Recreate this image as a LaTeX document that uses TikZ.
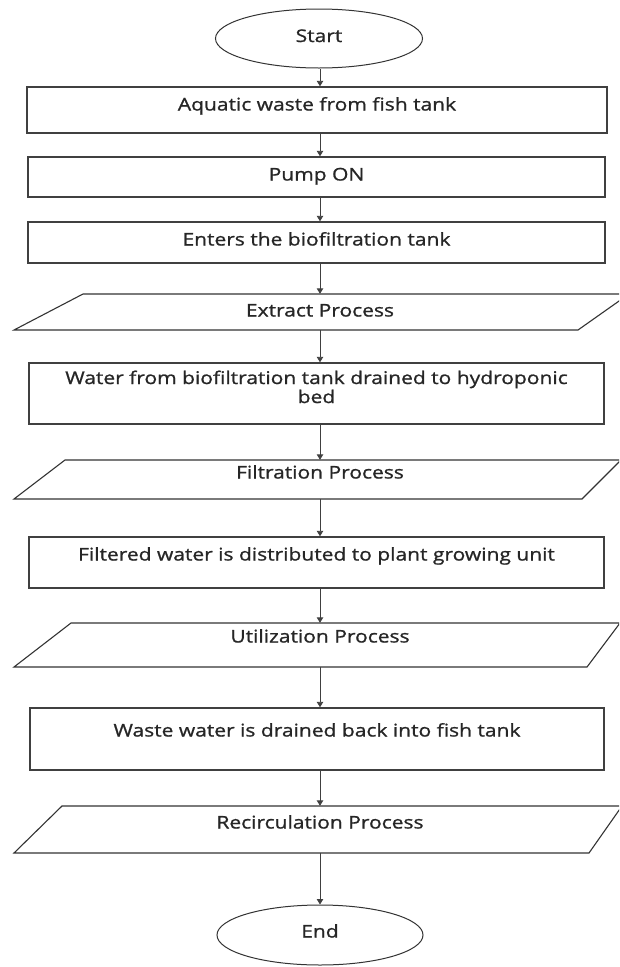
\documentclass[tikz,border=0pt]{standalone}
\usepackage{fontspec}
\setmainfont[FakeStretch=1.2,FakeBold=1]{Open Sans}
\usetikzlibrary{arrows.meta,shapes.geometric}
\begin{document}
\begin{tikzpicture}[x=1pt,y=-1pt]
\tikzset{
  lbl/.style={font=\fontsize{17.5}{19}\selectfont, text=black!85},
  boxs/.style={lbl, rectangle, draw=black!75, line width=1.4pt, inner sep=0pt},
  term/.style={lbl, ellipse, draw=black!80, line width=1pt, inner sep=0pt},
  iotxt/.style={lbl, rectangle, inner sep=0pt, minimum width=300pt},
  para/.style={draw=black!80, line width=1.1pt, line join=miter},
  arr/.style={draw=black!75, line width=0.9pt, -{Triangle[length=5.5pt,width=6.5pt]}}
}
\useasboundingbox (0,0) rectangle (619,967);
\fill[white] (0,0) rectangle (619,967);
\clip (0,0) rectangle (619,967);

\coordinate (col) at (320,0);

% shapes
\node[term, minimum width=207pt, minimum height=59pt, text height=13.5pt, text depth=6.5pt] (start) at (319,38.5) {Start};
\node[boxs, minimum width=580pt, minimum height=46pt, text height=10.5pt, text depth=9.5pt] (b1) at (317,110) {Aquatic waste from fish tank};
\node[boxs, minimum width=577pt, minimum height=40pt, text height=13.5pt, text depth=6.5pt] (b2) at (316.5,177) {Pump ON};
\node[boxs, minimum width=577pt, minimum height=41pt, text height=13pt, text depth=7pt] (b3) at (316.5,242.5) {Enters the biofiltration tank};

\draw[para] (14,330) -- (83,294) -- (629,294) -- (578,330) -- cycle;
\node[iotxt, minimum height=36pt, text height=14.5pt, text depth=5.5pt] (p1) at (320,312) {Extract Process};

\node[boxs, minimum width=575pt, minimum height=61pt, align=center, text height=24pt, text depth=5pt] (b4) at (316.5,393.5) {Water from biofiltration tank drained to hydroponic\\bed};

\draw[para] (14,499) -- (65,460) -- (621,460) -- (582,499) -- cycle;
\node[iotxt, minimum height=39pt, text height=9pt, text depth=11pt] (p2) at (320,479.5) {Filtration Process};

\node[boxs, minimum width=575pt, minimum height=51pt, text height=8pt, text depth=12pt] (b5) at (316.5,562.5) {Filtered water is distributed to plant growing unit};

\draw[para] (14,667) -- (71,623) -- (620,623) -- (587,667) -- cycle;
\node[iotxt, minimum height=44pt, text height=7.5pt, text depth=12.5pt] (p3) at (320,645) {Utilization Process};

\node[boxs, minimum width=574pt, minimum height=62pt, text height=7.5pt, text depth=12.5pt] (b6) at (317,739) {Waste water is drained back into fish tank};

\draw[para] (14,853) -- (62,806) -- (622,806) -- (589,853) -- cycle;
\node[iotxt, minimum height=47pt, text height=9pt, text depth=11pt] (p4) at (320,829.5) {Recirculation Process};

\node[term, minimum width=206pt, minimum height=60pt, text height=12.5pt, text depth=7.5pt] (end) at (320,935) {End};

% connectors
\draw[arr] (start.south -| col) -- (b1.north -| col);
\draw[arr] (b1.south -| col) -- (b2.north -| col);
\draw[arr] (b2.south -| col) -- (b3.north -| col);
\draw[arr] (b3.south -| col) -- (p1.north -| col);
\draw[arr] (p1.south -| col) -- (b4.north -| col);
\draw[arr] (b4.south -| col) -- (p2.north -| col);
\draw[arr] (p2.south -| col) -- (b5.north -| col);
\draw[arr] (b5.south -| col) -- (p3.north -| col);
\draw[arr] (p3.south -| col) -- (b6.north -| col);
\draw[arr] (b6.south -| col) -- (p4.north -| col);
\draw[arr] (p4.south -| col) -- (end.north -| col);
\end{tikzpicture}
\end{document}
